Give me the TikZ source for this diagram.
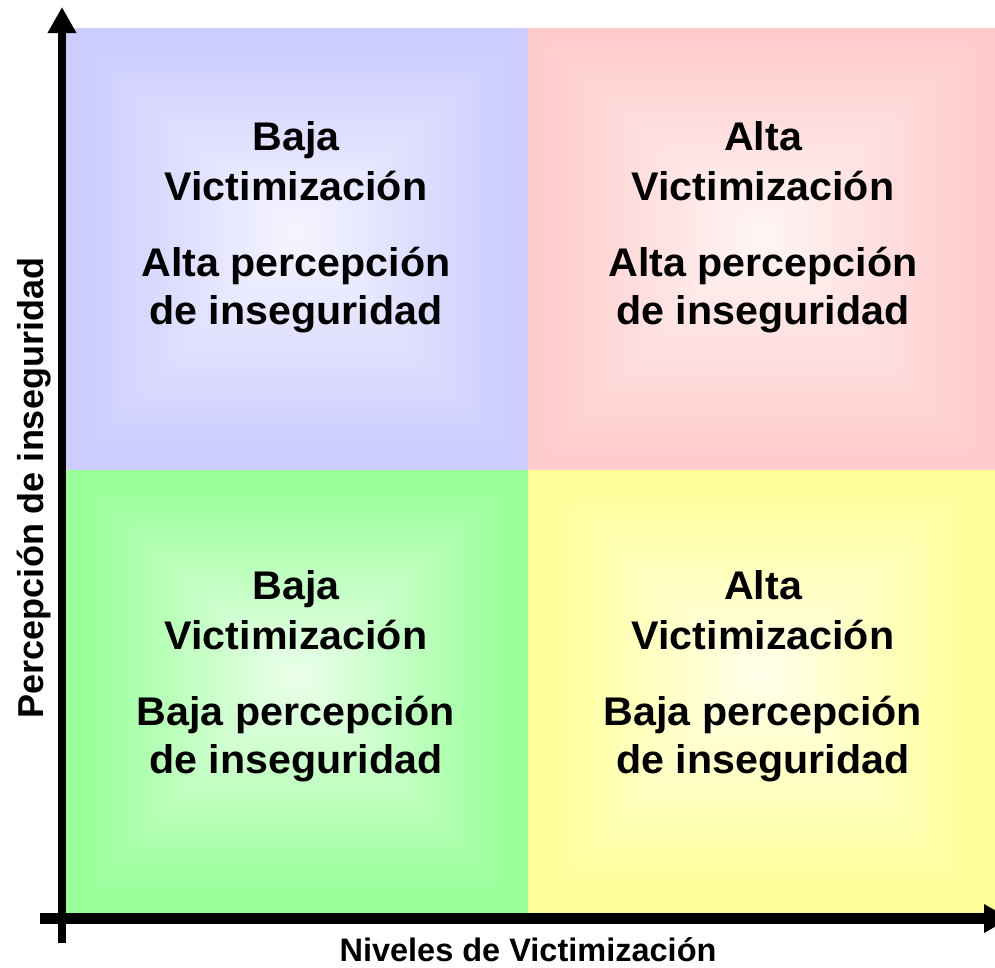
\documentclass[tikz,border=0pt]{standalone}
\usepackage{fontspec}
\setmainfont{Liberation Sans}
\usetikzlibrary{arrows.meta}
\definecolor{qblue}{HTML}{CCCCFF}
\definecolor{qpink}{HTML}{FFCCCC}
\definecolor{qgreen}{HTML}{99FF99}
\definecolor{qyellow}{HTML}{FFFF99}
% rectangular "from centre" gradient: x1 y1 x2 y2 cx cy colour
\newcommand{\drawquad}[7]{%
  \foreach \i in {0,...,70}{%
    \pgfmathsetmacro{\f}{\i/70}%
    \pgfmathtruncatemacro{\p}{\f<0.08 ? 100 : 100-80*(\f-0.08)/0.92}%
    \fill[#7!\p!white] ({#1+\f*(#5-#1)},{#2+\f*(#6-#2)}) rectangle ({#3+\f*(#5-#3)},{#4+\f*(#6-#4)});
  }}
\newcommand{\qtxt}[1]{\scalebox{1.03}[1]{#1}}
\tikzset{
  qtext/.style={anchor=base, inner sep=0pt, font=\fontsize{40}{48}\selectfont\bfseries},
  axis/.style={draw=black},
  axlabel/.style={anchor=base, inner sep=0pt, font=\bfseries},
}
\begin{document}
\begin{tikzpicture}[x=1pt,y=-1pt]
\clip (0,0) rectangle (995,967);
\fill[white] (0,0) rectangle (995,967);
% quadrants
\drawquad{66}{28}{528}{470}{297}{234}{qblue}
\drawquad{528}{28}{995}{470}{762}{234}{qpink}
\drawquad{66}{470}{528}{913}{297}{676}{qgreen}
\drawquad{528}{470}{995}{913}{762}{676}{qyellow}
% texts top-left
\node[qtext] (tl1) at (296,150) {\qtxt{Baja}};
\node[qtext] (tl2) at (296,200) {\qtxt{Victimización}};
\node[qtext] (tl3) at (296,276) {\qtxt{Alta percepción}};
\node[qtext] (tl4) at (296,324) {\qtxt{de inseguridad}};
% top-right
\node[qtext] (tr1) at (763,150) {\qtxt{Alta}};
\node[qtext] (tr2) at (763,200) {\qtxt{Victimización}};
\node[qtext] (tr3) at (763,276) {\qtxt{Alta percepción}};
\node[qtext] (tr4) at (763,324) {\qtxt{de inseguridad}};
% bottom-left
\node[qtext] (bl1) at (296,599) {\qtxt{Baja}};
\node[qtext] (bl2) at (296,649) {\qtxt{Victimización}};
\node[qtext] (bl3) at (296,725) {\qtxt{Baja percepción}};
\node[qtext] (bl4) at (296,773) {\qtxt{de inseguridad}};
% bottom-right
\node[qtext] (br1) at (763,599) {\qtxt{Alta}};
\node[qtext] (br2) at (763,649) {\qtxt{Victimización}};
\node[qtext] (br3) at (763,725) {\qtxt{Baja percepción}};
\node[qtext] (br4) at (763,773) {\qtxt{de inseguridad}};
% axes
\coordinate (yb) at (62,943);
\coordinate (yt) at (62,7);
\coordinate (xl) at (40,918.5);
\coordinate (xr) at (1010,918.5);
\draw[axis, line width=8pt, -{Triangle[width=27pt,length=26pt]}] (yb) -- (yt);
\draw[axis, line width=11pt, -{Triangle[width=27pt,length=26pt]}] (xl) -- (xr);
% axis labels
\node[axlabel, font=\fontsize{32.5}{38}\selectfont\bfseries] (xlab) at (528,961) {Niveles de Victimización};
\node[axlabel, font=\fontsize{36}{42}\selectfont\bfseries, rotate=90] (ylab) at (43,488) {Percepción de inseguridad};
\end{tikzpicture}
\end{document}
